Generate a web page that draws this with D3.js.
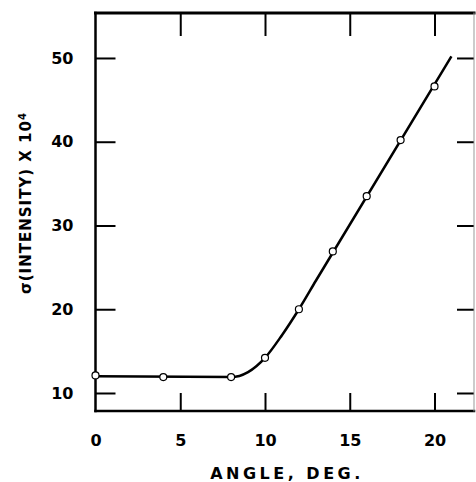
<!DOCTYPE html>
<html lang="en">
<head>
    <meta charset="UTF-8">
    <title>Sigma vs angle</title>
    <script src="https://cdnjs.cloudflare.com/ajax/libs/d3/7.9.0/d3.min.js"></script>
    <style>
        body { margin: 0; background: white; }
        svg text { font-family: "DejaVu Sans", sans-serif; font-weight: bold; fill: black; }
    </style>
</head>
<body>
    <svg width="476" height="482"></svg>

    <script>
        // measured points
        const angle = [0, 4, 8, 10, 12, 14, 16, 18, 20];
        const sigma = [12.1, 11.9, 11.9, 14.2, 20.0, 26.9, 33.5, 40.2, 46.6];

        // drawn curve through the points
        const curveAngle = [0, 8, 9, 10, 11, 12, 13, 21];
        const curveSigma = [12.0, 11.9, 12.5, 14.2, 16.9, 20.0, 23.4, 50.2];

        const xTicks = [5, 10, 15, 20];
        const xLabels = [0, 5, 10, 15, 20];
        const yTicks = [10, 20, 30, 40, 50];

        const svg = d3.select("svg");
        const pLeft = 95.5, pRight = 474, pTop = 13, pBottom = 411;

        const x = d3.scaleLinear().domain([0, 22.33]).range([pLeft, pRight]);
        const y = d3.scaleLinear().domain([7.85, 55.37]).range([pBottom, pTop]);

        // ticks (inward)
        const gb = svg.append("g").attr("transform", `translate(0,${pBottom})`)
            .call(d3.axisBottom(x).tickValues(xLabels).tickSize(-18).tickPadding(24).tickFormat(d3.format("d")));
        gb.selectAll(".tick").filter(d => d === 0).select("line").remove();

        svg.append("g").attr("transform", `translate(0,${pTop})`)
            .call(d3.axisTop(x).tickValues(xTicks).tickSize(-23).tickFormat(""));

        svg.append("g").attr("transform", `translate(${pLeft},0)`)
            .call(d3.axisLeft(y).tickValues(yTicks).tickSize(-20).tickPadding(22).tickFormat(d3.format("d")));

        svg.append("g").attr("transform", `translate(${pRight},0)`)
            .call(d3.axisRight(y).tickValues(yTicks).tickSize(-17).tickFormat(""));

        svg.selectAll(".domain").remove();
        svg.selectAll(".tick line").attr("stroke", "black").attr("stroke-width", 2);
        svg.selectAll(".tick text").attr("font-size", "16px");

        // frame
        const frame = svg.append("g").attr("stroke", "black").attr("stroke-linecap", "square");
        frame.append("line").attr("x1", pLeft).attr("x2", pRight).attr("y1", pTop).attr("y2", pTop).attr("stroke-width", 3);
        frame.append("line").attr("x1", pLeft).attr("x2", pRight).attr("y1", pBottom).attr("y2", pBottom).attr("stroke-width", 2.5);
        frame.append("line").attr("x1", pLeft).attr("x2", pLeft).attr("y1", pTop).attr("y2", pBottom).attr("stroke-width", 2.5);
        frame.append("line").attr("x1", pRight).attr("x2", pRight).attr("y1", pTop).attr("y2", pBottom)
            .attr("stroke-width", 1).attr("stroke", "#999");

        // curve
        const line = d3.line()
            .x(i => x(curveAngle[i]))
            .y(i => y(curveSigma[i]))
            .curve(d3.curveMonotoneX);

        svg.append("path")
            .attr("d", line(d3.range(curveAngle.length)))
            .attr("fill", "none")
            .attr("stroke", "black")
            .attr("stroke-width", 2.5);

        // points
        svg.append("g").selectAll("circle")
            .data(d3.range(angle.length))
            .join("circle")
            .attr("cx", i => x(angle[i]))
            .attr("cy", i => y(sigma[i]))
            .attr("r", 3.5)
            .attr("fill", "white")
            .attr("stroke", "black")
            .attr("stroke-width", 1.2);

        // axis titles
        svg.append("text")
            .attr("x", 287)
            .attr("y", 479)
            .attr("text-anchor", "middle")
            .attr("font-size", "16px")
            .attr("letter-spacing", "3.5px")
            .text("ANGLE, DEG.");

        const yt = svg.append("text")
            .attr("transform", "translate(31,203) rotate(-90)")
            .attr("text-anchor", "middle")
            .attr("font-size", "15px")
            .attr("letter-spacing", "1px");
        yt.append("tspan").text("σ(INTENSITY) X 10");
        yt.append("tspan").attr("dy", "-0.5em").attr("font-size", "10px").text("4");
    </script>
</body>
</html>
